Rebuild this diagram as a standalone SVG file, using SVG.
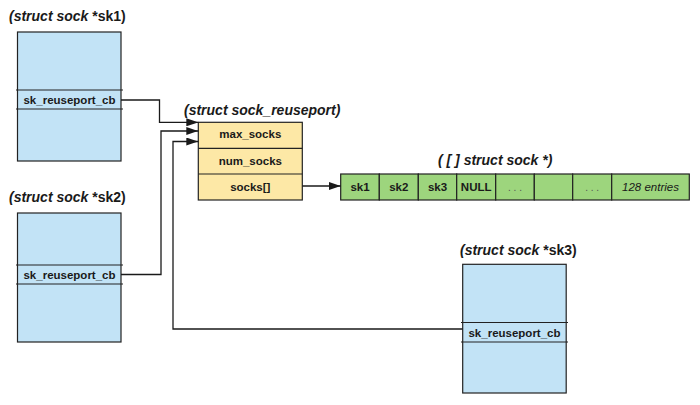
<svg xmlns="http://www.w3.org/2000/svg" width="700" height="405" viewBox="0 0 700 405">
<style>
.title{font-family:"Liberation Sans",Arial,sans-serif;font-size:14px;font-weight:bold;font-style:italic;fill:#1a1a1a}
.up{font-style:normal}
.lbl{font-family:"Liberation Sans",Arial,sans-serif;font-size:11.5px;font-weight:bold;fill:#1a1a1a;text-anchor:middle}
.it{font-family:"Liberation Sans",Arial,sans-serif;font-size:11.5px;font-style:italic;fill:#1a1a1a;text-anchor:middle}
.dots{font-family:"Liberation Sans",Arial,sans-serif;font-size:10px;fill:#555;text-anchor:middle}
.sock{fill:#c2e3f6;stroke:#222;stroke-width:1.2}
.div{stroke:#222;stroke-width:1.2}
.reu{fill:#fde8a6;stroke:#222;stroke-width:1.2}
.cell{fill:#9dd57d;stroke:#222;stroke-width:1.2}
.con{fill:none;stroke:#1a1a1a;stroke-width:1.3}
</style>
<defs>
<marker id="ah" markerUnits="userSpaceOnUse" markerWidth="12" markerHeight="8" refX="12" refY="4" orient="auto">
<path d="M0,0 L12,4 L0,8 z" fill="#1a1a1a"/>
</marker>
</defs>
<rect width="700" height="405" fill="#ffffff"/>

<g id="sk1">
<text class="title" x="9" y="21">(struct sock <tspan class="up">*sk1)</tspan></text>
<rect class="sock" x="17.5" y="32" width="103.5" height="129"/>
<line class="div" x1="16" y1="90" x2="123" y2="90"/>
<line class="div" x1="16" y1="109" x2="123" y2="109"/>
<text class="lbl" x="69.5" y="103.5">sk_reuseport_cb</text>
</g>

<g id="sk2">
<text class="title" x="9" y="202">(struct sock <tspan class="up">*sk2)</tspan></text>
<rect class="sock" x="17.5" y="213" width="103.5" height="129"/>
<line class="div" x1="16" y1="265" x2="123" y2="265"/>
<line class="div" x1="16" y1="284" x2="123" y2="284"/>
<text class="lbl" x="69.5" y="278.5">sk_reuseport_cb</text>
</g>

<g id="sk3">
<text class="title" x="460" y="255">(struct sock <tspan class="up">*sk3)</tspan></text>
<rect class="sock" x="462.7" y="264.3" width="103.5" height="128.7"/>
<line class="div" x1="461" y1="322.5" x2="568" y2="322.5"/>
<line class="div" x1="461" y1="342" x2="568" y2="342"/>
<text class="lbl" x="514.5" y="336.5">sk_reuseport_cb</text>
</g>

<g id="sock_reuseport">
<text class="title" x="184" y="115">(struct sock_reuseport)</text>
<rect class="reu" x="198.3" y="122.3" width="104" height="77.7"/>
<line class="div" x1="198.3" y1="148.3" x2="302.3" y2="148.3"/>
<line class="div" x1="198.3" y1="174" x2="302.3" y2="174"/>
<text class="lbl" x="250.3" y="138">max_socks</text>
<text class="lbl" x="250.3" y="164.5">num_socks</text>
<text class="lbl" x="250.3" y="190.5">socks[]</text>
</g>

<g id="socks_array">
<text class="title" x="438" y="165">( [ ] struct sock *)</text>
<rect class="cell" x="340.7" y="174" width="38.6" height="26"/>
<rect class="cell" x="379.3" y="174" width="39" height="26"/>
<rect class="cell" x="418.3" y="174" width="38.4" height="26"/>
<rect class="cell" x="456.7" y="174" width="39" height="26"/>
<rect class="cell" x="495.7" y="174" width="38.6" height="26"/>
<rect class="cell" x="534.3" y="174" width="38.4" height="26"/>
<rect class="cell" x="572.7" y="174" width="39" height="26"/>
<rect class="cell" x="611.7" y="174" width="77.6" height="26"/>
<text class="lbl" x="360" y="191">sk1</text>
<text class="lbl" x="398.8" y="191">sk2</text>
<text class="lbl" x="437.5" y="191">sk3</text>
<text class="lbl" x="476.2" y="191">NULL</text>
<text class="dots" x="515" y="191">. . .</text>
<text class="dots" x="592.2" y="191">. . .</text>
<text class="it" x="650.5" y="191">128 entries</text>
</g>

<g id="connectors">
<path class="con" d="M121,100 H159.5 V122.3 H198.3" marker-end="url(#ah)"/>
<path class="con" d="M121,274.5 H161 V131 H198.3" marker-end="url(#ah)"/>
<path class="con" d="M462.7,329 H173 V141.5 H198.3" marker-end="url(#ah)"/>
<path class="con" d="M302.3,186 H340.7" marker-end="url(#ah)"/>
</g>
</svg>
